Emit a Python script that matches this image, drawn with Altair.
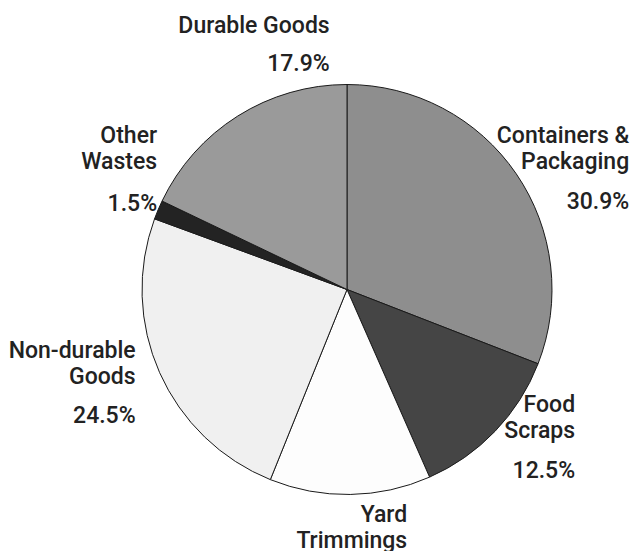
import altair as alt
import pandas as pd

# Data
categories = ["Containers & Packaging", "Food Scraps", "Yard Trimmings",
              "Non-durable Goods", "Other Wastes", "Durable Goods"]
values = [30.9, 12.5, 12.7, 24.5, 1.5, 17.9]
name_lines = [["Containers &", "Packaging"], ["Food", "Scraps"], ["Yard", "Trimmings"],
              ["Non-durable", "Goods"], ["Other", "Wastes"], ["Durable Goods"]]
pct_labels = ["30.9%", "12.5%", "", "24.5%", "1.5%", "17.9%"]

# Styles (kept apart from data)
fills = ["#8e8e8e", "#454545", "#fdfdfd", "#f0f0f0", "#232323", "#9a9a9a"]
# label offsets from the slice's rim point (dx, dy_first_name_line, dy_pct)
offsets = {
    "Containers & Packaging": (113, -38, 28),
    "Food Scraps": (80, -26, 40),
    "Yard Trimmings": (57, 21, None),
    "Non-durable Goods": (-24, -22, 43),
    "Other Wastes": (-1, -74, -6),
    "Durable Goods": (92, -90, -52),
}

df = pd.DataFrame({"category": categories, "value": values,
                   "order": list(range(len(categories)))})
df["mid"] = df["value"].cumsum() - df["value"] / 2
df["name"] = ["\n".join(l) for l in name_lines]
df["pct"] = pct_labels

R = 205
FONT = "Roboto"
FS = 23
theta_scale = alt.Scale(domain=[0, 100])

pie = alt.Chart(df).mark_arc(stroke="#1a1a1a", strokeWidth=1, outerRadius=R).encode(
    theta=alt.Theta("value:Q", stack=True, scale=theta_scale),
    color=alt.Color("category:N", scale=alt.Scale(domain=categories, range=fills), legend=None),
    order=alt.Order("order:Q"),
)

layers = [pie]
for cat in categories:
    dx, dyn, dyp = offsets[cat]
    base = alt.Chart(df).transform_filter(alt.datum.category == cat)
    layers.append(
        base.mark_text(align="right", baseline="middle", dx=dx, dy=dyn, font=FONT,
                       fontSize=FS, fontWeight=500, color="#222222", lineBreak="\n",
                       lineHeight=26).encode(
            theta=alt.Theta("mid:Q", stack=False, scale=theta_scale),
            radius=alt.value(R),
            text="name:N",
        )
    )
    if dyp is not None:
        layers.append(
            base.mark_text(align="right", baseline="middle", dx=dx, dy=dyp, font=FONT,
                           fontSize=FS, fontWeight=500, color="#222222").encode(
                theta=alt.Theta("mid:Q", stack=False, scale=theta_scale),
                radius=alt.value(R),
                text="pct:N",
            )
        )

chart = alt.layer(*layers).properties(
    width=574, height=523,
    padding={"left": 60, "right": 0, "top": 28, "bottom": 0},
    autosize=alt.AutoSizeParams(type="none"),
    background="white",
).configure_view(stroke=None)

chart.save("out.html", embed_options={"renderer": "svg", "actions": False})
